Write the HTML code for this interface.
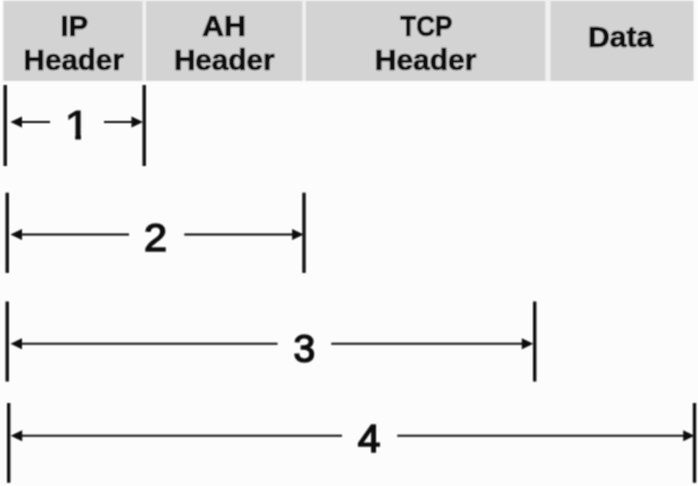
<!DOCTYPE html>
<html>
<head>
<meta charset="utf-8">
<title>Packet coverage diagram</title>
<style>
html,body{margin:0;padding:0;background:#fcfcfc;}
body{width:698px;height:486px;overflow:hidden;}
svg{display:block;}
text{font-family:"Liberation Sans",sans-serif;font-weight:bold;fill:#111;}
.h{font-size:29.4px;text-anchor:middle;stroke:#111;stroke-width:0.7px;}
.n{font-size:39.5px;text-anchor:middle;font-weight:normal;stroke:#111;stroke-width:1.5px;stroke-linejoin:miter;}
.ln{stroke:#0c0c0c;stroke-width:2;fill:none;}
.tk{stroke:#080808;stroke-width:3.3;fill:none;}
.ah{fill:#0c0c0c;}
</style>
</head>
<body>
<svg width="698" height="486" viewBox="0 0 698 486">
  <defs>
    <filter id="soft" x="0" y="0" width="698" height="486" filterUnits="userSpaceOnUse"><feConvolveMatrix order="3" kernelMatrix="1 2 1 2 4 2 1 2 1" divisor="16" edgeMode="duplicate"/></filter>
    <clipPath id="one">
      <polygon points="55,100 80.9,100 80.9,145 75.3,145 75.3,134.6 55,134.6"/>
    </clipPath>
  </defs>
  <rect x="0" y="0" width="698" height="486" fill="#fcfcfc"/>
  <g id="art" filter="url(#soft)">
  <!-- header boxes -->
  <rect x="3.3" y="0.8" width="690.3" height="80.1" fill="#d3d3d3"/>
  <rect x="142.5" y="0" width="3.6" height="81" fill="#f0f0f0"/>
  <rect x="302.3" y="0" width="3.6" height="81" fill="#f0f0f0"/>
  <rect x="545.3" y="0" width="5.2" height="81" fill="#f0f0f0"/>
  <!-- header labels -->
  <text class="h" transform="translate(74.3,36)">IP</text>
  <text class="h" transform="translate(73.7,69.6) scale(1.005,1)">Header</text>
  <text class="h" transform="translate(224,36) scale(1.036,1)">AH</text>
  <text class="h" transform="translate(224.2,69.6) scale(1.01,1)">Header</text>
  <text class="h" transform="translate(426.3,36) scale(0.884,1)">TCP</text>
  <text class="h" transform="translate(425.6,69.6) scale(1.02,1)">Header</text>
  <text class="h" transform="translate(620.6,47) scale(1.026,1)">Data</text>

  <!-- row 1 -->
  <line class="tk" x1="5.2" y1="85" x2="5.2" y2="166"/>
  <line class="tk" x1="144.2" y1="85" x2="144.2" y2="166"/>
  <line class="ln" x1="20" y1="122" x2="50" y2="122"/>
  <polygon class="ah" points="10.5,122 22,116.5 22,127.5"/>
  <line class="ln" x1="104" y1="122" x2="133" y2="122"/>
  <polygon class="ah" points="143,122 131.5,116.5 131.5,127.5"/>
  <g clip-path="url(#one)"><text class="n" style="font-size:41px;stroke-width:1px" transform="translate(77.3,139) scale(1.12,1)">1</text></g>

  <!-- row 2 -->
  <line class="tk" x1="7.2" y1="192.7" x2="7.2" y2="272.9"/>
  <line class="tk" x1="304" y1="192.7" x2="304" y2="272.9"/>
  <line class="ln" x1="20" y1="234.6" x2="129" y2="234.6"/>
  <polygon class="ah" points="10.5,234.6 22,229.1 22,240.1"/>
  <line class="ln" x1="184.3" y1="234.6" x2="293" y2="234.6"/>
  <polygon class="ah" points="303.6,234.6 292.1,229.1 292.1,240.1"/>
  <text class="n" transform="translate(155.6,251.3) scale(1.05,1)">2</text>

  <!-- row 3 -->
  <line class="tk" x1="7.2" y1="301.5" x2="7.2" y2="381.5"/>
  <line class="tk" x1="534.7" y1="301.5" x2="534.7" y2="381.5"/>
  <line class="ln" x1="20" y1="343.8" x2="277.5" y2="343.8"/>
  <polygon class="ah" points="10.5,343.8 22,338.3 22,349.3"/>
  <line class="ln" x1="331.3" y1="343.8" x2="523" y2="343.8"/>
  <polygon class="ah" points="533.3,343.8 521.8,338.3 521.8,349.3"/>
  <text class="n" transform="translate(304.3,362.1) scale(0.99,1)">3</text>

  <!-- row 4 -->
  <line class="tk" x1="8.7" y1="403" x2="8.7" y2="482.7"/>
  <line class="tk" x1="694.5" y1="403" x2="694.5" y2="482.7"/>
  <line class="ln" x1="20" y1="435.8" x2="342" y2="435.8"/>
  <polygon class="ah" points="10.7,435.8 22.2,430.3 22.2,441.3"/>
  <line class="ln" x1="397.3" y1="435.8" x2="685" y2="435.8"/>
  <polygon class="ah" points="694.5,435.8 683.2,430.3 683.2,441.3"/>
  <text class="n" transform="translate(369.1,452.3) scale(1.03,1)">4</text>
  </g>
</svg>
</body>
</html>
